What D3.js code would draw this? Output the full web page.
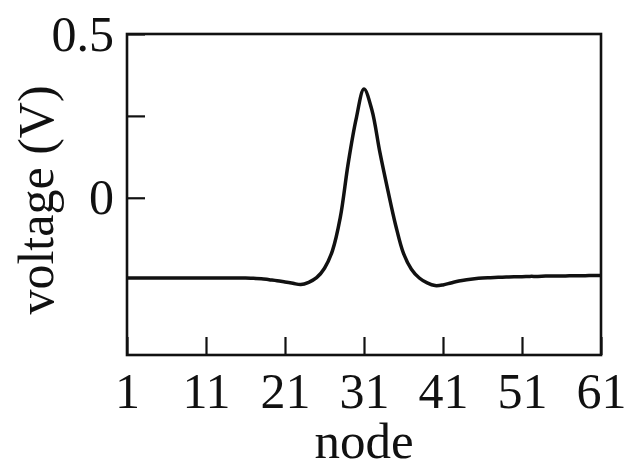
<!DOCTYPE html>
<html>
<head>
<meta charset="utf-8">
<script src="https://cdn.jsdelivr.net/npm/d3@7"></script>
<style>
  html, body { margin: 0; padding: 0; background: #fff; }
  svg { display: block; }
  text { font-family: "Liberation Serif", "Times New Roman", serif; fill: #111; }
</style>
</head>
<body>
<svg id="chart" width="634" height="468"></svg>
<script>
// Node voltages along the line (nodes 1..61)
const nodes = d3.range(1, 62);
const voltage = [
  -0.245, -0.245, -0.245, -0.245, -0.245, -0.245, -0.245, -0.245, -0.245, -0.245,
  -0.245, -0.245, -0.245, -0.245, -0.245, -0.245, -0.246, -0.247, -0.250, -0.253,
  -0.257, -0.261, -0.265, -0.258, -0.244, -0.215, -0.162, -0.060,  0.105,  0.240,
   0.332,  0.268,  0.140,  0.025, -0.083, -0.170, -0.218, -0.245, -0.260, -0.268,
  -0.266, -0.260, -0.254, -0.250, -0.247, -0.245, -0.244, -0.243, -0.242, -0.241,
  -0.241, -0.240, -0.240, -0.239, -0.239, -0.239, -0.238, -0.238, -0.238, -0.237,
  -0.237
];
const xTicks = [1, 11, 21, 31, 41, 51, 61];
const yTicks = [0, 0.25, 0.5];
const yTickLabels = ["0", "", "0.5"];

const svg = d3.select("#chart");
const plotLeft = 127, plotRight = 601, plotTop = 34, plotBottom = 355;

const x = d3.scaleLinear().domain([1, 61]).range([plotLeft, plotRight]);
const y = d3.scaleLinear().domain([-0.48, 0.5]).range([plotBottom, plotTop]);

// x axis with inward ticks
const gx = svg.append("g")
  .attr("transform", `translate(0,${plotBottom})`)
  .call(d3.axisBottom(x).tickValues(xTicks).tickFormat(d3.format("d"))
    .tickSizeInner(-18).tickSizeOuter(0).tickPadding(17));
gx.select(".domain").remove();
gx.selectAll("line").attr("stroke", "#111").attr("stroke-width", 2.2);
gx.selectAll("text").style("font-size", "50px").attr("fill", "#111");

// y axis with inward ticks
const gy = svg.append("g")
  .attr("transform", `translate(${plotLeft},0)`)
  .call(d3.axisLeft(y).tickValues(yTicks)
    .tickFormat((d, i) => yTickLabels[i])
    .tickSizeInner(-18).tickSizeOuter(0).tickPadding(13));
gy.select(".domain").remove();
gy.selectAll("line").attr("stroke", "#111").attr("stroke-width", 2.2);
gy.selectAll("text").style("font-size", "50px").attr("fill", "#111");

// frame
svg.append("rect")
  .attr("x", plotLeft).attr("y", plotTop)
  .attr("width", plotRight - plotLeft).attr("height", plotBottom - plotTop)
  .attr("fill", "none").attr("stroke", "#111").attr("stroke-width", 2.6);

// voltage profile
const line = d3.line()
  .x((d, i) => x(nodes[i]))
  .y(d => y(d))
  .curve(d3.curveCatmullRom.alpha(0.5));

svg.append("path")
  .datum(voltage)
  .attr("d", line)
  .attr("fill", "none")
  .attr("stroke", "#111")
  .attr("stroke-width", 3.5)
  .attr("stroke-linejoin", "round");

// axis titles
svg.append("text")
  .attr("x", (plotLeft + plotRight) / 2)
  .attr("y", 458)
  .attr("text-anchor", "middle")
  .style("font-size", "51px")
  .text("node");

svg.append("text")
  .attr("transform", `translate(53,200) rotate(-90)`)
  .attr("text-anchor", "middle")
  .style("font-size", "50px")
  .text("voltage (V)");
</script>
</body>
</html>
